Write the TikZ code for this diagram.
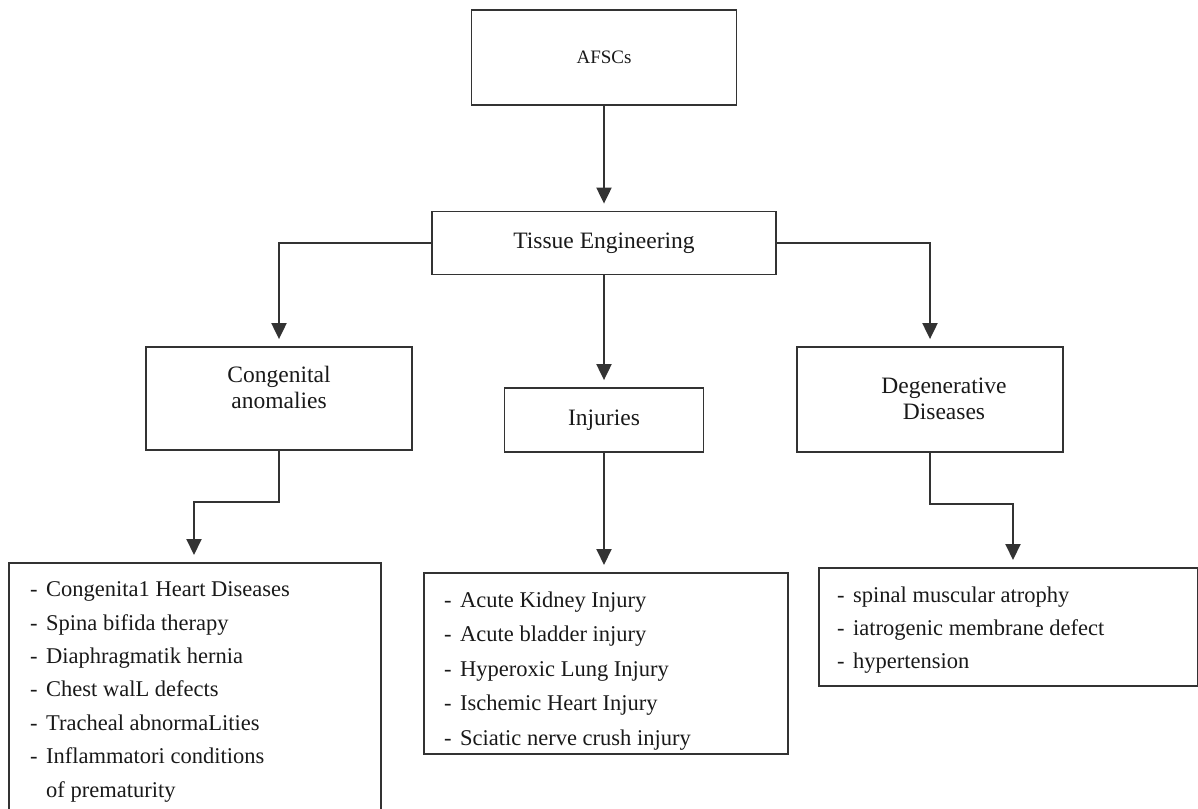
\documentclass[tikz,border=0pt]{standalone}
\usepackage{fontspec}
\setmainfont{Liberation Serif}
\usetikzlibrary{arrows.meta}

\newcommand{\dashmark}{\makebox[16bp][l]{-}}
\newcommand{\nodash}{\hspace*{16bp}}

\begin{document}
\begin{tikzpicture}[x=1bp,y=-1bp,
  box/.style={draw=black!80, line width=1.8bp, inner sep=0pt},
  head/.style={font=\fontsize{23.5bp}{26bp}\selectfont, text=black!90, align=center},
  item/.style={font=\fontsize{22.5bp}{33.4bp}\selectfont, text=black!90, align=left, anchor=base west, inner sep=0pt},
  arr/.style={draw=black!80, line width=2bp, -{Triangle[length=16bp,width=15bp]}, shorten >=7bp}]

\path[use as bounding box, clip] (0,0) rectangle (1198,809);

% top
\node[box, head, font=\fontsize{19bp}{22bp}\selectfont, minimum width=265bp, minimum height=95bp] (afsc) at (604,57.5) {AFSCs};
\node[box, head, minimum width=344bp, minimum height=63bp] (tissue) at (604,243) {Tissue Engineering};

% middle row
\node[box, minimum width=266bp, minimum height=103bp] (cong) at (279,398.5) {};
 \node[head] (congtxt) at (279,387) {Congenital\\anomalies};
\node[box, head, minimum width=199bp, minimum height=64bp] (inj) at (604,420) {Injuries};
\node[box, minimum width=266bp, minimum height=105bp] (degen) at (930,399.5) {};
 \node[head] (degentxt) at (944,399) {Degenerative\\Diseases};

% lists (placed by the baseline of their last line)
\node[box, minimum width=372bp, minimum height=280bp, anchor=north west] (conglist) at (8,562) {};
 \node[item] (congitems) at (30,797) {\dashmark Congenita1 Heart Diseases\\
   \dashmark Spina bifida therapy\\
   \dashmark Diaphragmatik hernia\\
   \dashmark Chest walL defects\\
   \dashmark Tracheal abnormaLities\\
   \dashmark Inflammatori conditions\\
   \nodash of prematurity};
\node[box, minimum width=364bp, minimum height=181bp, anchor=north west] (injlist) at (423,572) {};
 \node[item, font=\fontsize{22.5bp}{34.5bp}\selectfont] (injitems) at (444,745) {\dashmark Acute Kidney Injury\\
   \dashmark Acute bladder injury\\
   \dashmark Hyperoxic Lung Injury\\
   \dashmark Ischemic Heart Injury\\
   \dashmark Sciatic nerve crush injury};
\node[box, minimum width=379bp, minimum height=118bp, anchor=north west] (degenlist) at (818,567) {};
 \node[item, font=\fontsize{22.5bp}{33bp}\selectfont] (degenitems) at (837,668) {\dashmark spinal muscular atrophy\\
   \dashmark iatrogenic membrane defect\\
   \dashmark hypertension};

% arrows
\draw[arr] (afsc.south) -- (tissue.north);
\draw[arr] (tissue.west) -| (cong.north);
\draw[arr] (tissue.south) -- (inj.north);
\draw[arr] (tissue.east) -| (degen.north);

\coordinate (cbend) at (194,502);
\coordinate (dbend) at (1013,504);
\draw[arr] (cong.south) |- (cbend) -- (cbend |- conglist.north);
\draw[arr] (inj.south) -- (inj.south |- injlist.north);
\draw[arr] (degen.south) |- (dbend) -- (dbend |- degenlist.north);
\end{tikzpicture}
\end{document}
